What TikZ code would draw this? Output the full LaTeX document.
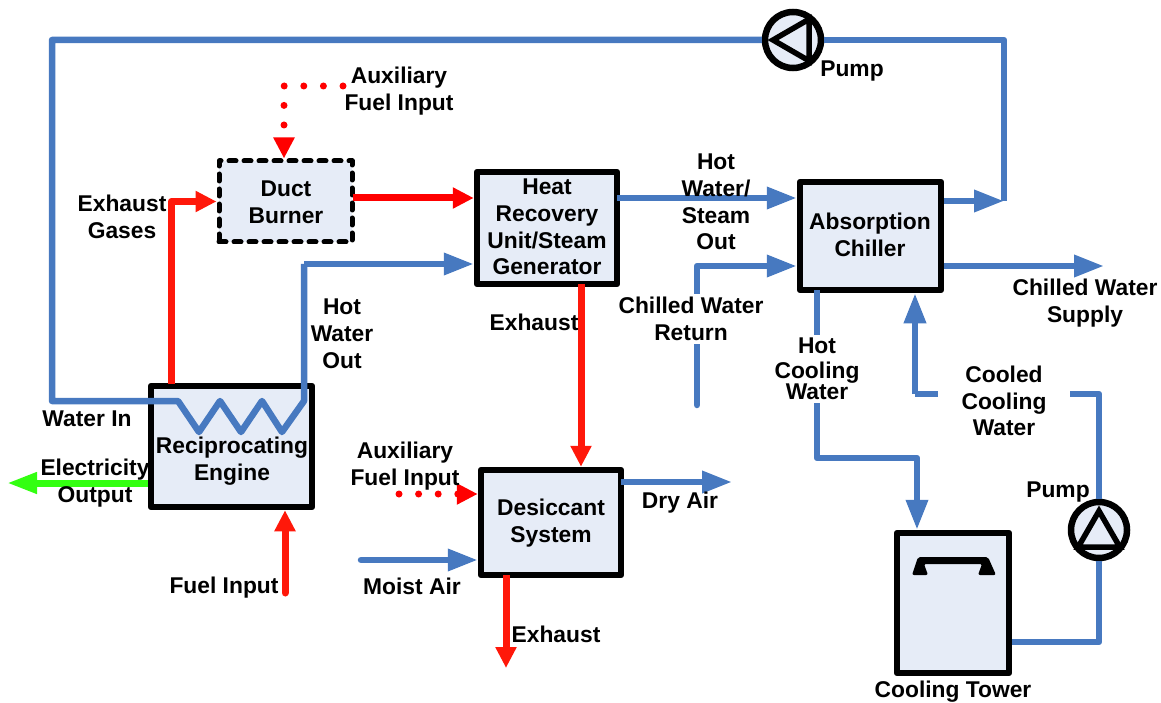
\documentclass[tikz,border=0pt]{standalone}
\usepackage{fontspec}
\setmainfont{Liberation Sans}
\usetikzlibrary{shapes.geometric, arrows.meta, positioning, calc}

\definecolor{boxblue}{RGB}{230,236,247}
\definecolor{pipeblue}{RGB}{71,121,192}
\definecolor{firered}{RGB}{255,24,10}
\definecolor{purered}{RGB}{255,0,0}
\definecolor{powergreen}{RGB}{51,255,17}

\tikzset{
    unitbox/.style={draw=black, fill=boxblue, line width=6.5pt, line join=round, inner sep=0pt},
    pumpbody/.style={circle, draw=black, fill=boxblue, line width=6.5pt, minimum size=56pt, inner sep=0pt},
    pumptri/.style={regular polygon, regular polygon sides=3, draw=black, line width=5.5pt, minimum size=48pt, inner sep=0pt},
    txt/.style={font=\bfseries\fontsize{22.8}{26.8}\selectfont, align=center, inner sep=0pt},
    gaptxt/.style={txt, fill=white, inner xsep=4pt, inner ysep=3pt},
    pipeplain/.style={draw=pipeblue, line width=6.5pt, line join=round},
    pipe/.style={pipeplain, -{Triangle[length=30pt,width=21pt]}},
    fire/.style={draw=firered, line width=7pt, line join=round, -{Triangle[length=21pt,width=20pt]}},
    firedots/.style={fire, draw=purered, line cap=round, dash pattern=on 0pt off 19.6pt},
    power/.style={draw=powergreen, line width=7pt, -{Triangle[length=30pt,width=20pt]}}
}

\begin{document}
\begin{tikzpicture}[x=1pt, y=-1pt]
    \useasboundingbox (0,0) rectangle (1161,703);

    % Units
    \node[unitbox, minimum width=161pt, minimum height=121pt] (engine) at (231.5,446.5) {};
    \node[unitbox, minimum width=133pt, minimum height=81pt, line width=5pt, line cap=round, dash pattern=on 7pt off 8pt] (duct) at (285.5,201.5) {};
    \node[unitbox, minimum width=140pt, minimum height=112pt] (hru) at (547,228) {};
    \node[unitbox, minimum width=141pt, minimum height=108pt] (chiller) at (870.5,236) {};
    \node[unitbox, minimum width=140pt, minimum height=105pt] (desiccant) at (551,522.5) {};
    \node[unitbox, minimum width=112pt, minimum height=140pt] (tower) at (953,603) {};

    % Fan of the tower
    \fill[black, line join=round, rounded corners=2pt] (918,557) -- (988,557) -- (996,575) -- (978,575) -- (982,564) -- (924,564) -- (928,575) -- (912,575) -- cycle;

    % Pumps
    \node[pumpbody] (pumpTop) at (793,40) {};
    \node[pumptri, rotate=90] (pumpTopTri) at ($(pumpTop)+(4,0)$) {};
    \node[pumpbody] (pumpRight) at (1099,530) {};
    \node[pumptri] (pumpRightTri) at ($(pumpRight)+(0,5)$) {};

    % Free ends and bends
    \coordinate (gasOut) at (171,384);
    \coordinate (ductOut) at (353,198);
    \coordinate (hwOut) at (304,401);
    \coordinate (hwIn) at (304,264);
    \coordinate (hruHot) at (617,198);
    \coordinate (hruDown) at (581,284);
    \coordinate (chillerBend) at (1004,201);
    \coordinate (topBend) at (1004,40);
    \coordinate (leftTop) at (52,40);
    \coordinate (leftLow) at (52,401);
    \coordinate (returnEnd) at (697,405);
    \coordinate (returnIn) at (697,266);
    \coordinate (supplyEnd) at (1104,266);
    \coordinate (hotOut) at (817,290);
    \coordinate (hotBend) at (917,458);
    \coordinate (coolIn) at (915,292);
    \coordinate (coolBend) at (915,394);
    \coordinate (coolRight) at (1099,394);
    \coordinate (towerOut) at (1099,642);
    \coordinate (dryOut) at (621,482);
    \coordinate (dryEnd) at (732,482);
    \coordinate (moistStart) at (361,560);
    \coordinate (fuelStart) at (285,593);
    \coordinate (auxTopStart) at (343,86);
    \coordinate (auxTopBend) at (284,86);
    \coordinate (auxLowStart) at (399,494);
    \coordinate (exhaustOut) at (506,575);
    \coordinate (exhaustEnd) at (506,668);
    \coordinate (powerOut) at (148,483);
    \coordinate (powerEnd) at (7,483);

    % Water loop through the engine
    \draw[pipe] (chillerBend -| chiller.east) -- (chillerBend);
    \draw[pipeplain] (chillerBend) -- (topBend) -- (pumpTop.east);
    \draw[pipeplain] (pumpTop.west) -- (leftTop) -- (leftLow) -- (178,401) -- (199,432) -- (220,401) -- (241,432) -- (262,401) -- (282,432) -- (hwOut) -- (hwIn);
    \draw[pipe] (hwIn) -- (hwIn -| hru.west);

    % Hot side
    \draw[fire] (gasOut) |- (duct.west);
    \draw[fire, draw=purered] (ductOut) -- (ductOut -| hru.west);
    \draw[fire] (hruDown) -- (hruDown |- desiccant.north);
    \draw[fire, line cap=round] (fuelStart) -- (fuelStart |- engine.south);
    \draw[fire] (exhaustOut) -- (exhaustEnd);
    \draw[firedots] (auxTopStart) -- (auxTopBend) -- (auxTopBend |- duct.north);
    \draw[firedots] (auxLowStart) -- (auxLowStart -| desiccant.west);
    \draw[power] (powerOut) -- (powerEnd);

    % Chiller side
    \draw[pipe] (hruHot) -- (hruHot -| chiller.west);
    \draw[pipe, line cap=round] (returnEnd) |- (chiller.west |- returnIn);
    \draw[pipe] (chiller.east |- supplyEnd) -- (supplyEnd);
    \draw[pipe] (hotOut) |- (hotBend) -- (hotBend |- tower.north);
    \draw[pipeplain] (tower.east |- towerOut) -- (towerOut) -- (pumpRight.south);
    \draw[pipeplain] (pumpRight.north) -- (coolRight) -- (coolBend);
    \draw[pipe] (coolBend) -- (coolIn |- chiller.south);
    \draw[pipe] (dryOut) -- (dryEnd);
    \draw[pipe, line cap=round] (moistStart) -- (moistStart -| desiccant.west);

    % Labels
    \node[txt] (ductText) at (286,202) {Duct\\Burner};
    \node[txt] (hruText) at (547,227) {Heat\\Recovery\\Unit/Steam\\Generator};
    \node[txt] (chillerText) at (870,235) {Absorption\\Chiller};
    \node[txt] (desiccantText) at (551,523) {Desiccant\\System};
    \node[txt] (engineText) at (232,461) {Reciprocating\\Engine};
    \node[txt] (auxTopText) at (399,91) {Auxiliary\\Fuel Input};
    \node[txt] (gasText) at (122,217) {Exhaust\\Gases};
    \node[txt] (hotSteamText) at (716,202) {Hot\\Water/\\Steam\\Out};
    \node[txt] (hotOutText) at (342,334) {Hot\\Water\\Out};
    \node[txt] (exhaustTopText) at (534,322) {Exhaust};
    \node[gaptxt] (returnText) at (691,319) {Chilled Water\\Return};
    \node[txt] (supplyText) at (1085,303) {Chilled Water\\Supply};
    \node[gaptxt] (hotCoolText) at (817,369) {Hot\\[-2.5pt]Cooling\\[-5.5pt]Water};
    \node[gaptxt, inner xsep=24pt] (coolText) at (1004,401) {Cooled\\Cooling\\Water};
    \node[txt] (pumpTopText) at (852,71) {Pump};
    \node[txt] (pumpRightText) at (1058,492) {Pump};
    \node[txt] (waterText) at (87,419) {Water In};
    \node[txt] (powerText) at (95,483) {Electricity\\Output};
    \node[txt] (fuelText) at (224,588) {Fuel Input};
    \node[txt] (auxLowText) at (405,466) {Auxiliary\\Fuel Input};
    \node[txt] (dryText) at (680,503) {Dry Air};
    \node[txt] (moistText) at (412,586) {Moist Air};
    \node[txt] (exhaustLowText) at (556,634) {Exhaust};
    \node[txt] (towerText) at (953,692) {Cooling Tower};
\end{tikzpicture}
\end{document}
